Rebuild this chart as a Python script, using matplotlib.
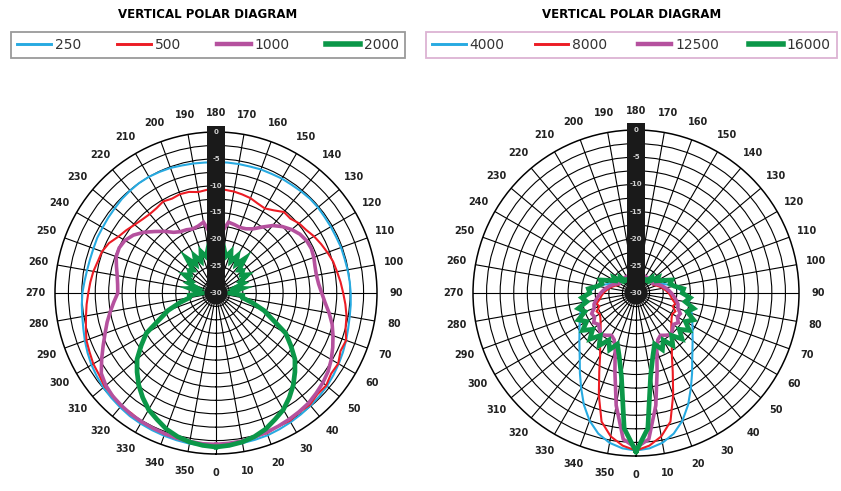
import numpy as np
import matplotlib
matplotlib.use("Agg")
import matplotlib.pyplot as plt
from matplotlib.patches import Rectangle, Circle
from matplotlib.lines import Line2D

plt.rcParams['font.family'] = ['DejaVu Sans']

# ---------------- data ----------------
angles_deg = np.arange(0, 360, 5)

low_labels = ['250', '500', '1000', '2000']
blue_250 = [-1.5, -1.5, -1.6, -1.7, -1.8, -2.0, -2.2, -2.4, -2.6, -2.8, -3.0, -3.3,
            -3.6, -3.9, -4.2, -4.5, -4.7, -4.8, -4.9, -5.0, -5.1, -5.2, -5.2, -5.3,
            -5.3, -5.3, -5.2, -5.2, -5.3, -5.4, -5.4, -5.5, -5.5, -5.6, -5.6, -5.6,
            -5.6, -5.6, -5.5, -5.4, -5.2, -5.1, -5.0, -5.0, -5.1, -5.2, -5.4, -5.5,
            -5.6, -5.6, -5.7, -5.7, -5.6, -5.4, -5.1, -4.9, -4.7, -4.4, -4.0, -3.6,
            -3.2, -2.9, -2.6, -2.4, -2.2, -2.0, -1.9, -1.8, -1.7, -1.6, -1.5, -1.5]
red_500 = [-1.7, -1.8, -2.0, -2.3, -2.2, -2.6, -2.5, -2.9, -2.8, -3.3, -3.2, -3.8,
           -3.7, -4.4, -4.2, -5.0, -5.3, -5.8, -6.3, -6.7, -7.1, -7.4, -7.9, -8.4,
           -8.9, -9.5, -9.8, -10.4, -10.3, -11.2, -11.8, -11.6, -11.2, -11.0, -10.8, -10.7,
           -10.8, -10.7, -10.9, -10.5, -10.4, -10.6, -10.3, -10.7, -10.8, -10.6, -10.2, -9.6,
           -9.0, -8.0, -7.4, -7.2, -6.8, -6.5, -6.2, -5.8, -5.4, -4.9, -4.3, -4.0,
           -3.6, -3.4, -2.9, -2.9, -2.5, -2.6, -2.2, -2.3, -2.0, -1.9, -1.8, -1.7]
magenta_1000 = [-1.8, -1.9, -2.0, -2.2, -2.4, -2.6, -2.8, -3.0, -3.2, -3.6, -4.0, -4.5,
                -5.2, -6.0, -6.8, -7.6, -8.6, -9.6, -10.3, -10.8, -11.0, -10.9, -10.6, -10.4,
                -10.5, -10.9, -11.6, -12.5, -13.6, -15.0, -16.2, -16.8, -17.0, -16.8, -16.6, -18.8,
                -20.7, -19.0, -16.6, -17.1, -17.3, -17.0, -16.8, -16.2, -15.0, -13.8, -12.4, -11.2,
                -10.4, -10.1, -10.2, -10.8, -11.3, -11.6, -11.7, -10.9, -10.0, -9.0, -8.0, -6.8,
                -5.4, -3.9, -3.2, -2.8, -2.6, -2.4, -2.3, -2.2, -2.1, -2.0, -1.9, -1.8]
green_2000 = [-1.3, -1.5, -1.8, -2.3, -3.0, -4.0, -4.9, -6.2, -7.6, -9.2, -10.8, -13.0,
              -15.0, -18.4, -20.5, -23.0, -25.0, -25.0, -27.5, -26.5, -25.0, -26.3, -24.5, -25.0,
              -23.2, -24.2, -23.5, -24.0, -21.6, -23.5, -22.0, -23.5, -21.8, -23.0, -21.5, -22.5,
              -22.0, -22.5, -21.5, -23.0, -21.8, -23.5, -22.0, -23.5, -21.5, -24.0, -23.5, -24.2,
              -23.2, -25.0, -24.5, -26.3, -25.0, -26.5, -27.5, -25.0, -25.0, -23.0, -20.5, -18.4,
              -15.0, -13.0, -10.8, -9.2, -7.6, -6.2, -4.9, -4.0, -3.0, -2.3, -1.8, -1.5]

high_labels = ['4000', '8000', '12500', '16000']
blue_4000 = [-1.0, -1.3, -2.0, -3.2, -5.0, -7.3, -9.8, -12.0, -13.9, -15.3, -16.4, -17.3,
             -18.0, -18.6, -19.1, -19.6, -20.1, -20.6, -21.2, -22.0, -23.0, -24.0, -25.0, -25.8,
             -26.3, -26.5, -26.5, -26.5, -26.5, -26.5, -26.5, -26.5, -26.5, -26.5, -26.5, -26.5,
             -26.5, -26.5, -26.5, -26.5, -26.5, -26.5, -26.5, -26.5, -26.5, -26.5, -26.5, -26.5,
             -26.3, -25.8, -25.0, -24.0, -23.0, -22.0, -21.2, -20.6, -20.1, -19.6, -19.1, -18.6,
             -18.0, -17.3, -16.4, -15.3, -13.9, -12.0, -9.8, -7.3, -5.0, -3.2, -2.0, -1.3]
red_8000 = [-1.0, -1.8, -3.2, -5.5, -10.0, -14.0, -16.8, -18.5, -19.8, -20.8, -21.5, -22.0,
            -22.3, -22.0, -22.8, -22.5, -23.2, -23.6, -24.0, -24.5, -25.0, -25.5, -26.0, -26.5,
            -26.5, -26.5, -26.5, -26.5, -26.5, -26.5, -26.5, -26.5, -26.5, -26.5, -26.5, -26.5,
            -26.5, -26.5, -26.5, -26.5, -26.5, -26.5, -26.5, -26.5, -26.5, -26.5, -26.5, -26.5,
            -26.5, -26.5, -26.0, -25.5, -25.0, -24.5, -24.0, -23.6, -23.2, -22.5, -22.8, -22.0,
            -22.3, -22.0, -21.5, -20.8, -19.8, -18.5, -16.8, -14.0, -10.0, -5.5, -3.2, -1.8]
magenta_12500 = [-1.5, -3.0, -9.0, -15.0, -18.8, -20.5, -21.0, -20.5, -20.0, -20.5, -21.0, -20.5,
                 -21.2, -21.0, -21.8, -22.0, -22.5, -23.0, -23.5, -24.0, -24.5, -25.0, -25.5, -26.0,
                 -26.5, -26.5, -26.5, -26.5, -26.5, -26.5, -26.5, -26.5, -26.5, -26.5, -26.5, -26.5,
                 -26.5, -26.5, -26.5, -26.5, -26.5, -26.5, -26.5, -26.5, -26.5, -26.5, -26.5, -26.5,
                 -26.5, -26.0, -25.5, -25.0, -24.5, -24.0, -23.5, -23.0, -22.5, -22.0, -21.8, -21.0,
                 -21.2, -20.5, -21.0, -20.5, -20.0, -20.5, -21.0, -20.5, -18.8, -15.0, -9.0, -3.0]
green_16000 = [-0.8, -5.0, -14.5, -18.0, -20.0, -18.5, -20.0, -18.2, -19.8, -18.0, -19.6, -18.0,
               -19.5, -18.3, -20.0, -19.0, -20.8, -20.0, -21.5, -21.2, -22.8, -23.5, -23.0, -24.5,
               -25.5, -25.0, -26.5, -26.0, -27.0, -27.0, -27.0, -27.0, -27.0, -27.0, -27.0, -27.0,
               -27.0, -27.0, -27.0, -27.0, -27.0, -27.0, -27.0, -27.0, -27.0, -26.0, -26.5, -25.0,
               -25.5, -24.5, -23.0, -23.5, -22.8, -21.2, -21.5, -20.0, -20.8, -19.0, -20.0, -18.3,
               -19.5, -18.0, -19.6, -18.0, -19.8, -18.2, -20.0, -18.5, -20.0, -18.0, -14.5, -5.0]

angle_ticks = np.arange(0, 360, 10)
ring_levels = np.arange(-27.5, 0, 2.5)
bar_levels = [0, -5, -10, -15, -20, -25, -30]
bar_texts = ['0', '-5', '-10', '-15', '-20', '-25', '-30']

colors = ['#27aae1', '#ec1c24', '#b5519e', '#0b9748']
widths = [1.5, 1.5, 2.6, 3.4]
title_text = 'VERTICAL POLAR DIAGRAM'

W, H = 841, 491
fig = plt.figure(figsize=(W / 100, H / 100), dpi=100)


def make_polar(cx, cy, rad, series, labels, legend_box, legend_edge):
    ax = fig.add_axes([(cx - rad) / W, (H - cy - rad) / H, 2 * rad / W, 2 * rad / H],
                      projection='polar')
    ax.set_theta_zero_location('S')
    ax.set_theta_direction(1)
    ax.set_ylim(-30, 0)
    ax.set_rticks(ring_levels)
    ax.set_yticklabels([])
    ax.set_thetagrids(angle_ticks, [str(a) for a in angle_ticks],
                      fontsize=7, fontweight='bold', color='#222222')
    ax.grid(True, color='black', lw=0.8)
    ax.tick_params(axis='x', pad=2, length=5, width=0.8, color='black', direction='out')
    ax.spines['polar'].set_linewidth(1.1)
    ax.spines['polar'].set_color('black')
    th = np.deg2rad(np.append(angles_deg, 360))
    handles = []
    for vals, c, lw in zip(series, colors, widths):
        v = np.append(vals, vals[0])
        ax.plot(th, v, color=c, lw=lw, zorder=3, solid_joinstyle='miter')
        handles.append(Line2D([], [], color=c, lw=lw + 0.6))
    # black level bar
    bw = 18 / (2 * rad)
    ax.add_patch(Rectangle((0.5 - bw / 2, 0.5), bw, 0.52, transform=ax.transAxes,
                           facecolor='#1a1a1a', edgecolor='none', zorder=5, clip_on=False))
    ax.add_patch(Circle((0.5, 0.5), 11.5 / (2 * rad), transform=ax.transAxes,
                        facecolor='#1a1a1a', edgecolor='none', zorder=5, clip_on=False))
    for lv, tx in zip(bar_levels, bar_texts):
        ax.text(np.pi, lv, tx, color='#d0d0d0', fontsize=5, fontweight='bold',
                ha='center', va='center', zorder=6)
    # legend
    x0, y0, x1, y1 = legend_box
    leg = fig.legend(handles, labels, loc='lower left', mode='expand', ncol=4,
                     bbox_to_anchor=(x0 / W, 1 - y1 / H, (x1 - x0) / W, (y1 - y0) / H),
                     frameon=True, fancybox=False, fontsize=10, handlelength=2.4,
                     handletextpad=0.3, borderpad=0.45, borderaxespad=0,
                     labelcolor='#333333')
    leg.get_frame().set_edgecolor(legend_edge)
    leg.get_frame().set_linewidth(1.3)
    fig.text((x0 + x1) / 2 / W, 1 - 14 / H, title_text, ha='center', va='center',
             fontsize=8.5, fontweight='heavy', color='black')
    return ax


make_polar(216, 293, 161, [blue_250, red_500, magenta_1000, green_2000], low_labels,
           (11, 28, 405, 58), '#808080')
make_polar(636, 293, 163, [blue_4000, red_8000, magenta_12500, green_16000], high_labels,
           (426, 28, 837, 58), '#d4a0c8')

fig.savefig('out.png', dpi=100)
